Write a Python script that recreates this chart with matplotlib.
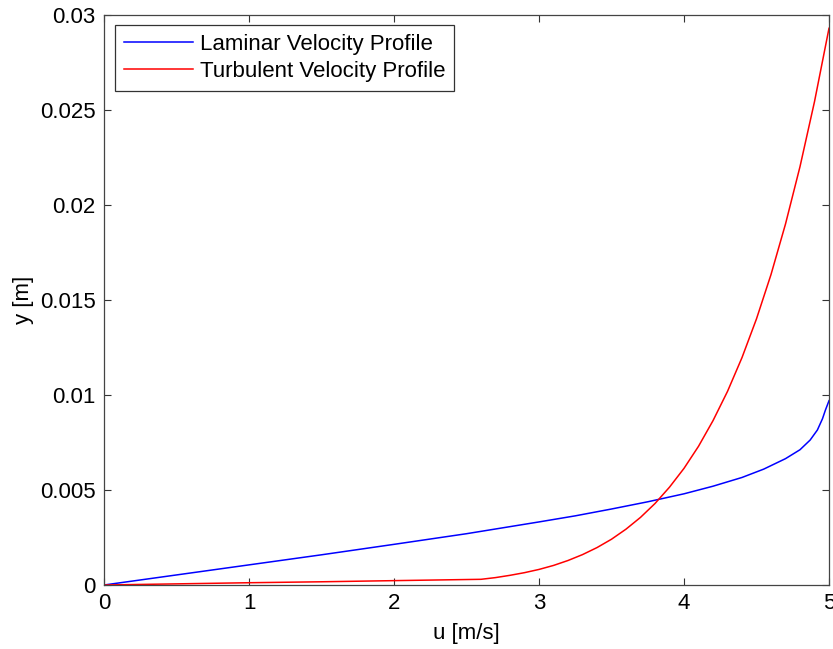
import matplotlib
matplotlib.use("Agg")
import matplotlib.pyplot as plt

# Laminar (Blasius-type) boundary-layer profile: velocity u [m/s] vs height y [m]
laminar_u = [0.0, 0.5, 1.0, 1.5, 2.0, 2.5, 3.0, 3.25, 3.5, 3.75, 4.0, 4.2,
             4.4, 4.55, 4.7, 4.8, 4.87, 4.92, 4.955, 4.975, 4.99, 5.0]
laminar_y = [0.0, 0.00053, 0.00106, 0.00159, 0.00214, 0.0027, 0.00332,
             0.00364, 0.0040, 0.00438, 0.0048, 0.0052, 0.00566, 0.0061,
             0.00665, 0.00712, 0.00763, 0.00816, 0.00875, 0.0092, 0.0095,
             0.0097]

# Turbulent profile: viscous sublayer followed by the 1/7 power-law region
turbulent_u = [0.0, 0.5, 1.0, 1.5, 2.0, 2.6, 2.7, 2.8, 2.9, 3.0, 3.1, 3.2,
               3.3, 3.4, 3.5, 3.6, 3.7, 3.8, 3.9, 4.0, 4.1, 4.2, 4.3, 4.4,
               4.5, 4.6, 4.7, 4.8, 4.9, 5.0]
turbulent_y = [0.0, 0.00006, 0.00012, 0.00017, 0.00023, 0.00030, 0.00039,
               0.00051, 0.00065, 0.00082, 0.00103, 0.00129, 0.00160, 0.00197,
               0.00241, 0.00294, 0.00356, 0.00429, 0.00515, 0.00614, 0.00730,
               0.00865, 0.01019, 0.01197, 0.01401, 0.01634, 0.01900, 0.02202,
               0.02544, 0.02930]

x_ticks = [0, 1, 2, 3, 4, 5]
y_ticks = [0, 0.005, 0.01, 0.015, 0.02, 0.025, 0.03]
y_tick_labels = ["0", "0.005", "0.01", "0.015", "0.02", "0.025", "0.03"]

plt.rcParams["font.family"] = ["Liberation Sans", "DejaVu Sans"]

fig = plt.figure(figsize=(8.33, 6.49), dpi=100)
ax = fig.add_axes([0.1249, 0.0986, 0.8703, 0.8783])

ax.plot(laminar_u, laminar_y, color="#0000ff", lw=1.1,
        label="Laminar Velocity Profile")
ax.plot(turbulent_u, turbulent_y, color="#ff0000", lw=1.1,
        label="Turbulent Velocity Profile")

ax.set_xlim(0, 5)
ax.set_ylim(0, 0.03)
ax.set_xticks(x_ticks)
ax.set_xticklabels([str(t) for t in x_ticks])
ax.set_yticks(y_ticks)
ax.set_yticklabels(y_tick_labels)

ax.tick_params(direction="in", length=5, width=0.8, colors="#333333",
               labelcolor="black", labelsize=16, top=True, right=True, pad=6)
for s in ax.spines.values():
    s.set_color("#444444")
    s.set_linewidth(0.9)

ax.set_xlabel("u [m/s]", fontsize=16, labelpad=6)
ax.set_ylabel("y [m]", fontsize=16, labelpad=4)

leg = ax.legend(loc="upper left", bbox_to_anchor=(0.0152, 0.982),
                borderaxespad=0, fontsize=16, handlelength=3.1,
                handletextpad=0.3, labelspacing=0.25, borderpad=0.4,
                fancybox=False, shadow=False, framealpha=1)
leg.get_frame().set_edgecolor("#333333")
leg.get_frame().set_linewidth(0.9)

fig.savefig("out.png", dpi=100)
